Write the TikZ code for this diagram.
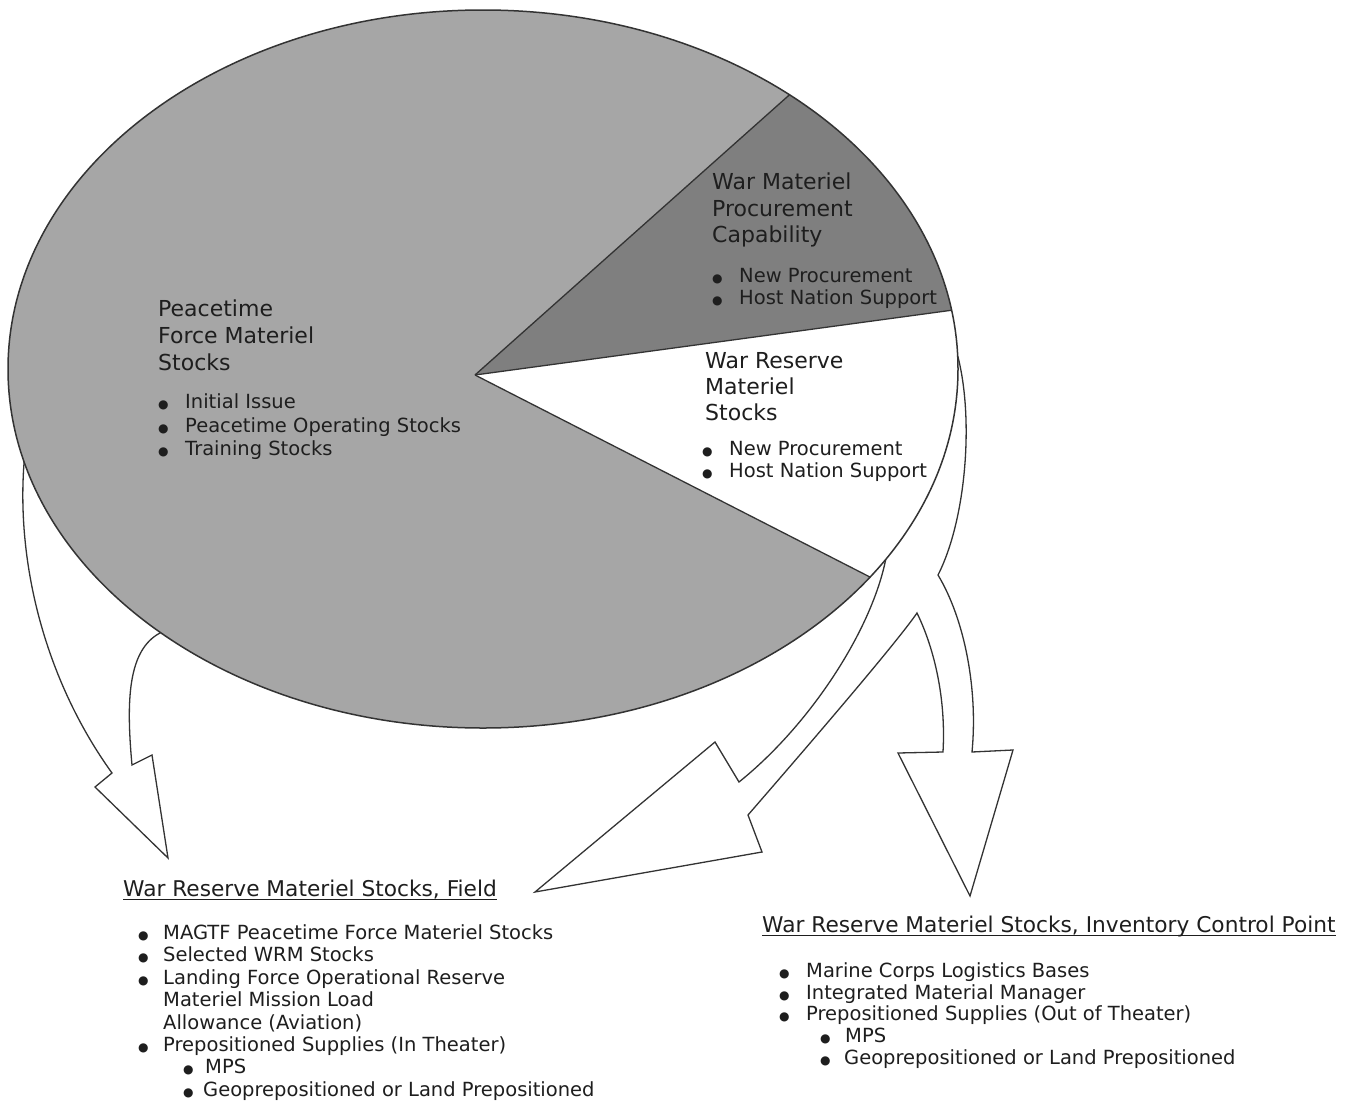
\documentclass[tikz,border=0pt]{standalone}
\usepackage{fontspec}
\setmainfont{DejaVu Sans}
\definecolor{lg}{HTML}{A6A6A6}
\definecolor{dg}{HTML}{7F7F7F}
\definecolor{edge}{HTML}{333333}
\definecolor{txt}{HTML}{1E1E1E}
\newcommand\bitem[2]{\makebox[#1][l]{{\fontsize{12}{12}\selectfont ●}}#2}
\tikzset{
  hd/.style={anchor=base west, inner sep=0pt, font=\fontsize{22}{26}\selectfont, text=txt},
  hdu/.style={anchor=base west, inner sep=0pt, font=\fontsize{21.7}{26}\selectfont, text=txt},
  bt/.style={anchor=base west, inner sep=0pt, font=\fontsize{19.5}{22}\selectfont, text=txt},
  ul/.style={line width=1.6pt, draw=txt},
  arr/.style={fill=white, draw=edge, line width=1.3pt, line join=miter},
  sep/.style={draw=edge, line width=1.3pt},
}
\begin{document}
\begin{tikzpicture}[x=1pt,y=-1pt]
\useasboundingbox[fill=white] (0,0) rectangle (1355,1103);

% ---- block arrows (drawn under the pie) ----
\draw[arr] (25,452) .. controls (14,560) and (45,680) .. (112,773)
  -- (95,787) -- (168,858) -- (152,755) -- (132,765)
  .. controls (126,700) and (128,650) .. (160,633)
  -- (250,560) -- (80,450) -- cycle;

\draw[arr] (958,357) .. controls (974,420) and (966,520) .. (938,575)
  .. controls (965,620) and (978,690) .. (972,752)
  -- (1013,750) -- (970,896) -- (898,753) -- (943,752)
  .. controls (946,700) and (935,650) .. (917,613)
  .. controls (895,645) and (800,755) .. (748,815)
  -- (762,852) -- (535,892) -- (715,742) -- (739,782)
  .. controls (810,725) and (872,630) .. (886,558)
  -- (850,500) -- (930,380) -- cycle;

% ---- pie ----
\begin{scope}
  \path[clip] (483,369) ellipse [x radius=475, y radius=359];
  \fill[lg] (483,369) ellipse [x radius=475, y radius=359];
  \fill[dg] (475,375) -- (1099,-181) -- (1417,-181) -- (1417,247) -- cycle;
  \fill[white] (475,375) -- (1417,247) -- (1417,775) -- (1257,775) -- cycle;
  \draw[sep] (475,375) -- (1099,-181);
  \draw[sep] (475,375) -- (1417,247);
  \draw[sep] (475,375) -- (1257,775);
\end{scope}
\draw[draw=edge, line width=1.5pt] (483,369) ellipse [x radius=475, y radius=359];

% ---- pie texts ----
\node[hd] (pf1) at (158,316) {Peacetime};
\node[hd] (pf2) at (158,343) {Force Materiel};
\node[hd] (pf3) at (158,370) {Stocks};
\node[bt] (pb1) at (158,408) {\bitem{27pt}{Initial Issue}};
\node[bt] (pb2) at (158,432) {\bitem{27pt}{Peacetime Operating Stocks}};
\node[bt] (pb3) at (158,455) {\bitem{27pt}{Training Stocks}};

\node[hd] (wm1) at (712,189) {War Materiel};
\node[hd] (wm2) at (712,216) {Procurement};
\node[hd] (wm3) at (712,242) {Capability};
\node[bt] (wb1) at (712,282) {\bitem{27pt}{New Procurement}};
\node[bt] (wb2) at (712,304) {\bitem{27pt}{Host Nation Support}};

\node[hd] (wr1) at (705,368) {War Reserve};
\node[hd] (wr2) at (705,394) {Materiel};
\node[hd] (wr3) at (705,420) {Stocks};
\node[bt] (rb1) at (702,455) {\bitem{27pt}{New Procurement}};
\node[bt] (rb2) at (702,477) {\bitem{27pt}{Host Nation Support}};

% ---- field block ----
\node[hdu] (fld) at (123,896) {War Reserve Materiel Stocks, Field};
\draw[ul] ([yshift=-3.5pt]fld.base west) -- ([yshift=-3.5pt]fld.base east);
\node[bt] (f1) at (138,939) {\bitem{25pt}{MAGTF Peacetime Force Materiel Stocks}};
\node[bt] (f2) at (138,961) {\bitem{25pt}{Selected WRM Stocks}};
\node[bt] (f3) at (138,984) {\bitem{25pt}{Landing Force Operational Reserve}};
\node[bt] (f4) at (163,1006) {Materiel Mission Load};
\node[bt] (f5) at (163,1029) {Allowance (Aviation)};
\node[bt] (f6) at (138,1051) {\bitem{25pt}{Prepositioned Supplies (In Theater)}};
\node[bt] (f7) at (183,1073) {\bitem{22pt}{MPS}};
\node[bt] (f8) at (183,1096) {\bitem{20pt}{Geoprepositioned or Land Prepositioned}};

% ---- ICP block ----
\node[hdu] (icp) at (762,932) {War Reserve Materiel Stocks, Inventory Control Point};
\draw[ul] ([yshift=-3.5pt]icp.base west) -- ([yshift=-3.5pt]icp.base east);
\node[bt] (i1) at (779,977) {\bitem{27pt}{Marine Corps Logistics Bases}};
\node[bt] (i2) at (779,999) {\bitem{27pt}{Integrated Material Manager}};
\node[bt] (i3) at (779,1020) {\bitem{27pt}{Prepositioned Supplies (Out of Theater)}};
\node[bt] (i4) at (820,1042) {\bitem{25pt}{MPS}};
\node[bt] (i5) at (820,1064) {\bitem{24pt}{Geoprepositioned or Land Prepositioned}};
\end{tikzpicture}
\end{document}
